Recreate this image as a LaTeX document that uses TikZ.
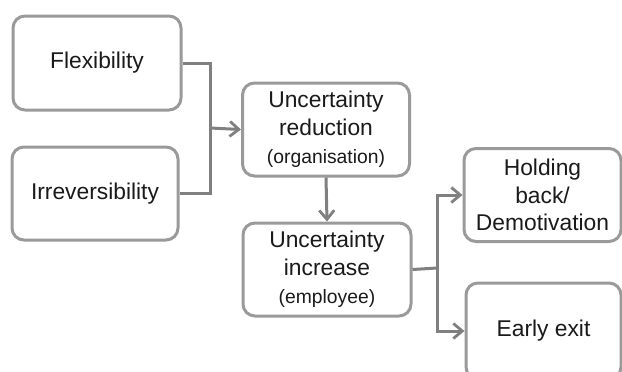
\documentclass[tikz,border=0pt]{standalone}
\usepackage{fontspec}
\setmainfont{Liberation Sans}
\usetikzlibrary{arrows.meta}
\definecolor{boxline}{HTML}{9A9A9A}
\definecolor{arrline}{HTML}{808080}
\definecolor{txt}{HTML}{1A1A1A}
\begin{document}
\begin{tikzpicture}[x=1pt,y=-1pt,
  box/.style={draw=boxline,line width=3pt,rounded corners=12pt,fill=white,
    align=center,text=txt,inner sep=0pt,
    font=\fontsize{22.8}{27.8}\selectfont},
  conn/.style={draw=arrline,line width=3pt},
  arr/.style={conn,-{Straight Barb[length=9pt,width=15pt,line width=2.8pt]}}]
\useasboundingbox (0,0) rectangle (622,372);
\clip (0,0) rectangle (622,372);
\fill[white] (0,0) rectangle (622,372);
\node[box,minimum width=168pt,minimum height=94pt] (flex) at (97,63) {Flexibility};
\node[box,minimum width=166pt,minimum height=93pt] (irr) at (95,193.5) {Irreversibility};
\node[box,minimum width=167pt,minimum height=93pt] (red) at (326,129.5) {Uncertainty\\reduction\\{\fontsize{19.3}{27.8}\selectfont(organisation)}};
\node[box,minimum width=168pt,minimum height=93pt] (inc) at (327,269.5) {Uncertainty\\increase\\{\fontsize{19.3}{27.8}\selectfont(employee)}};
\node[box,minimum width=157pt,minimum height=93pt] (hold) at (542.5,195) {Holding\\back/\\Demotivation};
\node[box,minimum width=155pt,minimum height=96pt] (exit) at (543.5,331) {Early exit};
\coordinate (j1) at (210,128);
\coordinate (j2) at (437,268);
\draw[conn] (flex.east) -| (j1);
\draw[conn] (irr.east) -| (j1);
\draw[arr] (j1) -- (red.west);
\draw[arr] (red.south) -- (inc.north);
\draw[conn] (inc.east) -- (j2);
\draw[arr] (j2) |- (hold.west);
\draw[arr] (j2) |- (exit.west);
\end{tikzpicture}
\end{document}
